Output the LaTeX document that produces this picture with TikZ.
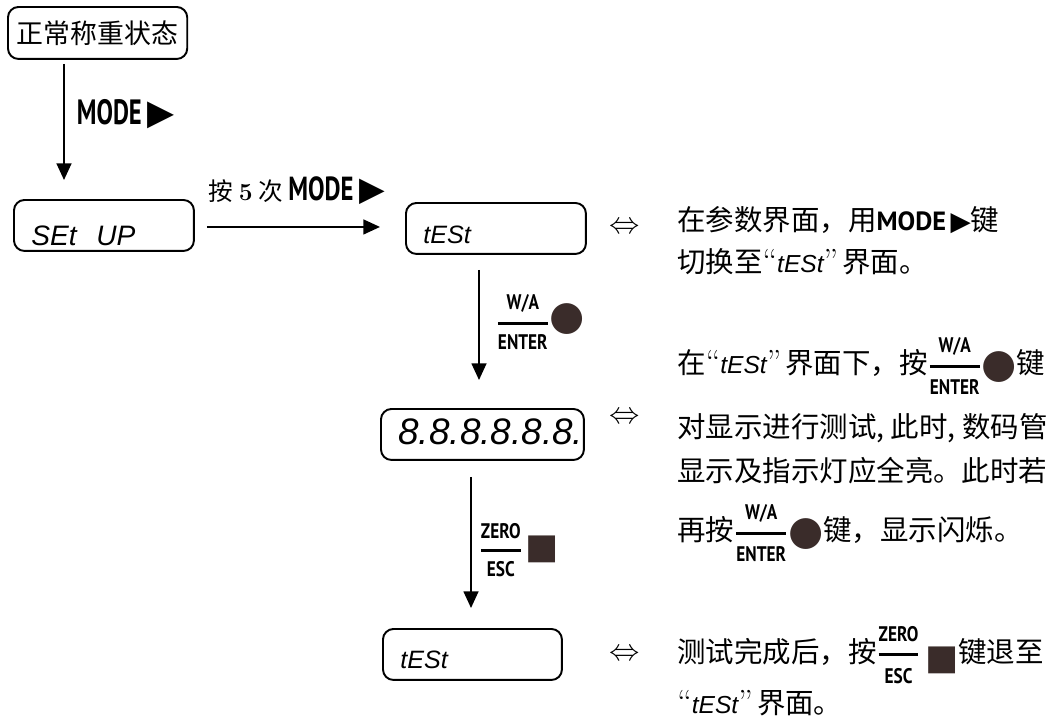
\documentclass[tikz,border=0pt]{standalone}
\usepackage{fontspec}
\usepackage{amsmath}
\usepackage{graphicx}
\usetikzlibrary{arrows.meta,calc,positioning}
\newfontfamily\cjk{Noto Sans CJK SC}
\newfontfamily\keyfont{PT Sans}
\newfontfamily\lcdfont{Liberation Sans}
\newfontfamily\symfont{DejaVu Sans}
\definecolor{keybrown}{HTML}{3A2C2A}

\newcommand\lcd[1]{{\lcdfont\itshape #1}}
\newcommand\quoted[1]{{\rmfamily\fontsize{19}{19}\selectfont “}\lcd{\fontsize{14}{16}\selectfont#1}{\rmfamily\fontsize{19}{19}\selectfont ”}\hspace{0.15em}}
\newcommand\modekey[1]{\scalebox{#1}[1]{\keyfont\bfseries MODE}\,{\symfont ▶}}
\newcommand\keyfrac[2]{$\genfrac{}{}{1.8pt}{0}{\hbox{\fontsize{12}{13}\selectfont\keyfont\bfseries\scalebox{0.82}[1]{#1}}}{\hbox{\fontsize{12}{13}\selectfont\keyfont\bfseries\scalebox{0.82}[1]{#2}}}$}
\newcommand\enterkey{\keyfrac{W/A}{ENTER}\raisebox{-0.25ex}{\symfont\fontsize{23}{23}\selectfont\textcolor{keybrown}{●}}}
\newcommand\esckey{\keyfrac{ZERO}{ESC}\,\raisebox{-0.45ex}{\symfont\fontsize{20}{20}\selectfont\textcolor{keybrown}{■}}}

\begin{document}
\begin{tikzpicture}[x=0.02cm, y=-0.02cm,
  lcdbox/.style={draw, line width=1.1pt, rounded corners=6pt, inner xsep=0.35cm, inner ysep=0pt,
    text width=#1, text depth=0pt, minimum height=1.02cm, align=left, anchor=north west},
  flow/.style={line width=1pt, -{Triangle[width=8.5pt,length=9.5pt]}},
  eqmark/.style={font=\fontsize{17}{17}\selectfont},
  note/.style={inner sep=0pt, anchor=west, font=\cjk\fontsize{16.2}{19}\selectfont}]
\useasboundingbox (0,0) rectangle (1058,720);

% states
\node[draw, line width=1.1pt, rounded corners=6pt, inner xsep=0.18cm, minimum height=1.04cm,
  anchor=north west, font=\cjk\fontsize{15.3}{18}\selectfont] (normal) at (7,6) {正常称重状态};
\node[lcdbox=2.9cm, text height=0.82cm, font=\lcdfont\itshape\fontsize{16}{19}\selectfont] (setup) at (13,199) {SEt\hspace{0.7em}UP};
\node[lcdbox=2.9cm, text height=0.62cm, font=\lcdfont\itshape\fontsize{14.3}{17}\selectfont] (test) at (405,202) {tESt};
\node[lcdbox=3.36cm, text height=0.4cm, font=\lcdfont\itshape\fontsize{21}{24}\selectfont] (full) at (380,408) {8.8.8.8.8.8.};
\node[lcdbox=2.88cm, text height=0.58cm, font=\lcdfont\itshape\fontsize{14.3}{17}\selectfont] (back) at (382,628) {tESt};

% arrows
\draw[flow] ($(normal.south west)+(57,4)$) -- node[pos=0.43, right=0.24cm, inner sep=0pt,
  font=\fontsize{20}{24}\selectfont] (modelbl) {\modekey{0.7}} ($(setup.north west)+(51,-19)$);
\draw[flow] ($(setup.east)+(12,1.5)$) -- node[pos=0, above right=0.42cm and 0.02cm, inner sep=0pt]
  (timeslbl) {{\cjk\fontsize{14}{16}\selectfont 按 {\rmfamily\bfseries 5} 次 }{\fontsize{19}{21}\selectfont\modekey{0.74}}}
  ($(setup.east -| test.west)+(-25,1.5)$);
\draw[flow] ($(test.south west)+(74,15)$) -- node[pos=0.47, right=0.32cm, inner sep=0pt] (enterlbl) {\enterkey}
  ($(full.north west)+(99,-28)$);
\draw[flow] ($(full.south west)+(91,16)$) -- node[pos=0.56, right=0.14cm, inner sep=0pt] (esclbl) {\esckey}
  ($(back.north west)+(89,-20)$);

% equivalence marks
\node[eqmark] (eq1) at (625,228) {$\Leftrightarrow$};
\node[eqmark] (eq2) at (625,418) {$\Leftrightarrow$};
\node[eqmark] (eq3) at (625,655) {$\Leftrightarrow$};

% notes
\node[note] (n1) at (677,220) {在参数界面，用{\fontsize{15}{17}\selectfont\modekey{1}}键};
\node[note] (n2) at (677,262) {切换至\quoted{tESt}界面。};
\node[note] (n3) at (677,366) {在\quoted{tESt}界面下，按\enterkey 键};
\node[note] (n4) at (677,428) {对显示进行测试, 此时, 数码管};
\node[note] (n5) at (677,471) {显示及指示灯应全亮。此时若};
\node[note] (n6) at (677,533) {再按\enterkey 键，显示闪烁。};
\node[note] (n7) at (677,655) {测试完成后，按\esckey 键退至};
\node[note] (n8) at (677,703) {\quoted{tESt}界面。};
\end{tikzpicture}
\end{document}
